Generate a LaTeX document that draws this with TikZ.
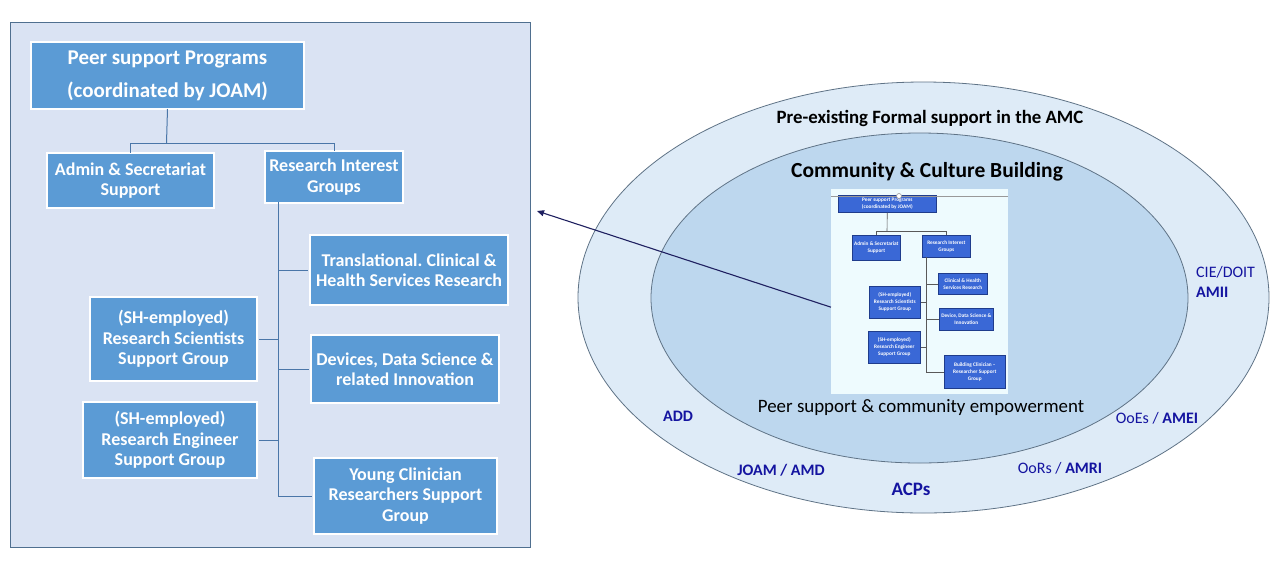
\documentclass[tikz,border=0pt]{standalone}
\usepackage{fontspec}
\setmainfont{Carlito}
\frenchspacing
\usetikzlibrary{arrows.meta}
\definecolor{panelbg}{HTML}{DAE3F3}
\definecolor{panelline}{HTML}{4F6F8F}
\definecolor{boxblue}{HTML}{5B9BD5}
\definecolor{conn}{HTML}{4A76A8}
\definecolor{outerfill}{HTML}{DEEBF7}
\definecolor{innerfill}{HTML}{BDD7EE}
\definecolor{ellline}{HTML}{5F7386}
\definecolor{lbl}{HTML}{1414A0}
\definecolor{arrowc}{HTML}{1F2060}
\definecolor{thumbbg}{HTML}{EEFBFE}
\definecolor{thumbbox}{HTML}{3A68D6}
\definecolor{thumbline}{HTML}{1F3C8C}
\begin{document}
\begin{tikzpicture}[x=1pt,y=-1pt,
  bx/.style={draw=white, line width=2pt, fill=boxblue, text=white,
    font=\bfseries\fontsize{18}{20.5}\selectfont, align=center, inner sep=0pt, anchor=north west},
  tbx/.style={draw=thumbline, line width=0.6pt, fill=thumbbox, text=white,
    font=\bfseries\fontsize{5.3}{7}\selectfont, align=center, inner sep=0pt, anchor=north west},
  cn/.style={draw=conn, line width=1pt},
  tcn/.style={draw=gray!70!black, line width=0.6pt},
  lab/.style={text=lbl, font=\bfseries\fontsize{16}{19}\selectfont, inner sep=0pt},
  labr/.style={text=lbl, font=\fontsize{16}{19}\selectfont, inner sep=0pt}]
\useasboundingbox (0,0) rectangle (1278,582);
\fill[white] (0,0) rectangle (1278,582);

% ---------- left panel ----------
\draw[fill=panelbg, draw=panelline, line width=1pt] (10,22) rectangle (530,547);

\node[bx, minimum width=273pt, minimum height=67pt, font=\bfseries\fontsize{21}{33}\selectfont] (peer) at (30,41) {Peer support Programs\\(coordinated by JOAM)};
\node[bx, minimum width=167pt, minimum height=55pt] (admin) at (46,152) {Admin \& Secretariat\\Support};
\node[bx, minimum width=138pt, minimum height=52pt] (rig) at (264,150) {Research Interest\\Groups};
\node[bx, minimum width=198pt, minimum height=70pt] (trans) at (309,234) {Translational. Clinical \&\\Health Services Research};
\node[bx, minimum width=167pt, minimum height=84pt] (sci) at (89,296) {(SH-employed)\\Research Scientists\\Support Group};
\node[bx, minimum width=188pt, minimum height=68pt] (dev) at (310,334) {Devices, Data Science \&\\related Innovation};
\node[bx, minimum width=174pt, minimum height=76pt] (eng) at (82,401) {(SH-employed)\\Research Engineer\\Support Group};
\node[bx, minimum width=183pt, minimum height=76pt] (young) at (313,457) {Young Clinician\\Researchers Support\\Group};

\coordinate (split) at (166.5,143);
\coordinate (tk) at (278,202);
\draw[cn] ([yshift=1pt]peer.south) -- (split);
\draw[cn] (split) -| ([yshift=-1pt]admin.north);
\draw[cn] (split) -| ([yshift=-1pt]rig.north);
\draw[cn] (tk) |- ([xshift=-1pt]young.west);
\draw[cn] (tk |- trans.west) -- ([xshift=-1pt]trans.west);
\draw[cn] (tk |- dev.west) -- ([xshift=-1pt]dev.west);
\draw[cn] (tk |- sci.east) -- ([xshift=1pt]sci.east);
\draw[cn] (tk |- eng.east) -- ([xshift=1pt]eng.east);

% ---------- ellipses ----------
\draw[fill=outerfill, draw=ellline, line width=0.8pt] (923.5,297.5) ellipse [x radius=345.5pt, y radius=215.5pt];
\draw[fill=innerfill, draw=ellline, line width=0.8pt] (919.5,298) ellipse [x radius=268.5pt, y radius=165pt];

\node[font=\bfseries\fontsize{18.8}{22}\selectfont, inner sep=0pt] (pre) at (930,118) {Pre-existing Formal support in the AMC};
\node[font=\bfseries\fontsize{21.5}{25}\selectfont, inner sep=0pt] (comm) at (927,172) {Community \& Culture Building};
\node[font=\fontsize{18.9}{22}\selectfont, inner sep=0pt] (emp) at (921,408) {Peer support \& community empowerment};

\node[lab] (add) at (678,416) {ADD};
\node[lab] (joam) at (781,470) {JOAM / AMD};
\node[lab, font=\bfseries\fontsize{19}{22}\selectfont] (acp) at (911,489) {ACPs};
\node[labr] (oor) at (1060,468) {OoRs / \textbf{AMRI}};
\node[labr] (oee) at (1157,418) {OoEs / \textbf{AMEI}};
\node[labr, anchor=west, align=left, font=\fontsize{16}{20}\selectfont] (cie) at (1196,282) {CIE/DOIT\\\textbf{AMII}};

% ---------- thumbnail ----------
\node[fill=thumbbg, minimum width=177pt, minimum height=205pt, anchor=north west, inner sep=0pt] (thumb) at (831,189) {};
\node[tbx, minimum width=98pt, minimum height=17pt] (tpeer) at (838,195) {Peer support Programs\\(coordinated by JOAM)};
\node[tbx, minimum width=48pt, minimum height=25pt] (tadmin) at (852,235) {Admin \& Secretariat\\Support};
\node[tbx, minimum width=48pt, minimum height=22pt] (trig) at (922,235) {Research Interest\\Groups};
\node[tbx, minimum width=49pt, minimum height=21pt] (tclin) at (938,273) {Clinical \& Health\\Services Research};
\node[tbx, minimum width=51pt, minimum height=32pt] (tsci) at (869,286) {(SH-employed)\\Research Scientists\\Support Group};
\node[tbx, minimum width=54pt, minimum height=22pt] (tdev) at (939,308) {Device, Data Science \&\\Innovation};
\node[tbx, minimum width=52pt, minimum height=32pt] (teng) at (868,331) {(SH-employed)\\Research Engineer\\Support Group};
\node[tbx, minimum width=61pt, minimum height=33pt] (tbld) at (944,355) {Building Clinician –\\Researcher Support\\Group};

\coordinate (tsplit) at (887,231);
\coordinate (ttk) at (926,257);
\draw[tcn] (tpeer.south) -- (tsplit);
\draw[tcn] (tsplit) -| (tadmin.north);
\draw[tcn] (tsplit) -| (trig.north);
\draw[tcn] (ttk) |- (tbld.west);
\draw[tcn] (ttk |- tclin.west) -- (tclin.west);
\draw[tcn] (ttk |- tdev.west) -- (tdev.west);
\draw[tcn] (ttk |- tsci.east) -- (tsci.east);
\draw[tcn] (ttk |- teng.east) -- (teng.east);
\draw[gray!80, line width=1pt] (thumb.north west |- 0,196) -- (thumb.north east |- 0,196);
\node[circle, draw=gray!80, fill=white, line width=0.6pt, inner sep=0pt, minimum size=5pt] (tdot) at (899,196) {};

% ---------- arrow ----------
\coordinate (arrtip) at (537,211);
\draw[arrowc, line width=1.1pt, -{Triangle[length=7pt,width=6pt]}] ([yshift=-15.5pt]thumb.west) -- (arrtip);
\end{tikzpicture}
\end{document}
